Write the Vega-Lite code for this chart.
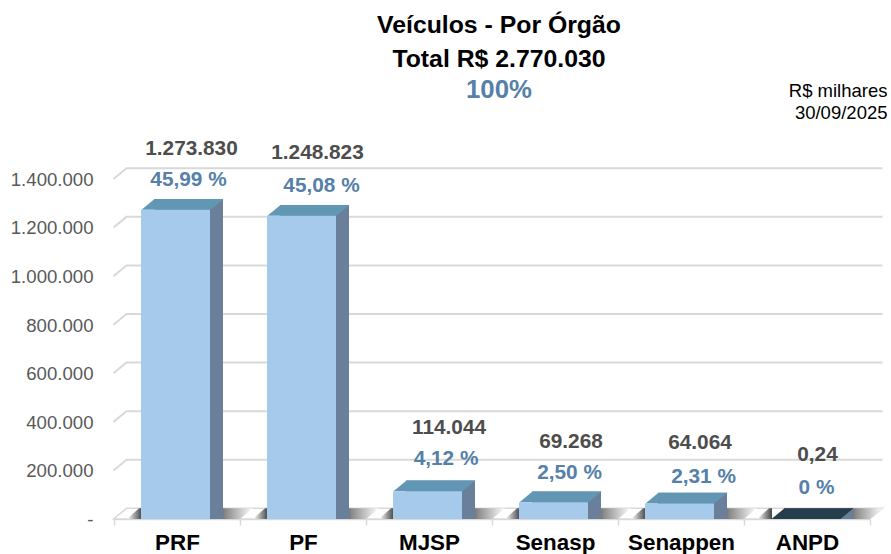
{
"$schema":"https://vega.github.io/schema/vega-lite/v6.json",
"width":756,"height":340,
"autosize":{"type":"none"},
"padding":{"left":114,"top":179,"right":21,"bottom":35},
"background":"white",
"config":{"view":{"stroke":null},"font":"Liberation Sans"},
"title":{"text":["Veículos - Por Órgão","Total R$ 2.770.030"],"subtitle":"\u00a0\u00a0100%","anchor":"middle","dx":7,"offset":-22,"font":"Liberation Sans","fontSize":24.8,"fontWeight":"bold","color":"#000000","lineHeight":34,"subtitleFont":"Liberation Sans","subtitleFontSize":25.8,"subtitleFontWeight":"bold","subtitleColor":"#5580A8","subtitlePadding":6},
"datasets":{
"orgaos":[
{"orgao":"PRF","valor":1273830,"valorTxt":"1.273.830","pct":"45,99 %"},
{"orgao":"PF","valor":1248823,"valorTxt":"1.248.823","pct":"45,08 %"},
{"orgao":"MJSP","valor":114044,"valorTxt":"114.044","pct":"4,12 %"},
{"orgao":"Senasp","valor":69268,"valorTxt":"69.268","pct":"2,50 %"},
{"orgao":"Senappen","valor":64064,"valorTxt":"64.064","pct":"2,31 %"},
{"orgao":"ANPD","valor":0.24,"valorTxt":"0,24","pct":"0 %"}],
"marcas":[{"valor":200000},{"valor":400000},{"valor":600000},{"valor":800000},{"valor":1000000},{"valor":1200000},{"valor":1400000}],
"piso":[{"valor":0}]
},
"data":{"name":"orgaos"},
"encoding":{
"x":{"field":"orgao","type":"nominal","sort":null,"scale":{"domain":["PRF","PF","MJSP","Senasp","Senappen","ANPD"],"paddingInner":0,"paddingOuter":0},
"axis":{"title":null,"labelAngle":0,"labelFont":"Liberation Sans","labelFontSize":22.4,"labelFontWeight":"bold","labelColor":"#000000","labelPadding":6.5,"tickBand":"extent","tickSize":6,"tickColor":"#D9D9D9","tickWidth":1.5,"domainColor":"#D9D9D9","domainWidth":1.5,"grid":false}},
"y":{"field":"valor","type":"quantitative","stack":null,"scale":{"domain":[0,1400000],"nice":false,"zero":true},
"axis":{"values":[0,200000,400000,600000,800000,1000000,1200000,1400000],"labelExpr":"datum.value==0?'-\u00a0\u00a0\u00a0\u00a0\u00a0':replace(format(datum.value,','),/,/g,'.')","labelFont":"Liberation Sans","labelFontSize":18.6,"labelColor":"#595959","labelPadding":21,"labelOffset":0.3,"tickSize":0,"domain":false,"grid":false,
"title":["R$ milhares","30/09/2025"],"titleFont":"Liberation Sans","titleFontSize":18.5,"titleFontWeight":"normal","titleColor":"#000000","titleAngle":0,"titleAlign":"right","titleBaseline":"middle","titleLineHeight":22,"titleX":773,"titleY":-89}}
},
"layer":[
{"data":{"name":"piso"},"mark":{"type":"point","shape":"M-63.5,0 L-50.5,-10.7 L705.5,-10.7 L692.5,0 Z","size":4,"filled":true,"fill":"#ffffff","stroke":"#D9D9D9","strokeWidth":1.5,"opacity":1},"encoding":{"x":{"datum":"PRF"}}},
{"data":{"name":"marcas"},"mark":{"type":"point","shape":"M-63.5,0 L-50.5,-10.7 L705.5,-10.7","size":4,"filled":false,"stroke":"#D9D9D9","strokeWidth":2,"opacity":1},"encoding":{"x":{"datum":"PRF"}}},
{"mark":{"type":"point","shape":"M-50,0 L-35,0 L-35,-10.7 L-38,-10.7 Z","size":4,"filled":true,"opacity":1,"stroke":null,"fill":{"x1":0,"x2":1,"y1":0,"y2":0,"gradient":"linear","stops":[{"offset":0,"color":"#ffffff"},{"offset":1,"color":"#444444"}]}},"encoding":{"y":{"datum":0}}},
{"mark":{"type":"point","shape":"M33.5,0 L46.5,-10.7 L76,-10.7 L63,0 Z","size":4,"filled":true,"opacity":1,"stroke":null,"fill":{"x1":0,"x2":1,"y1":0,"y2":0,"gradient":"linear","stops":[{"offset":0,"color":"#222222"},{"offset":0.35,"color":"#888888"},{"offset":1,"color":"#ffffff"}]}},"encoding":{"y":{"datum":0}}},
{"mark":{"type":"bar","width":69,"fill":"#6A7F99","xOffset":11.5,"x2Offset":11.5,"yOffset":-10.7,"y2Offset":-10.7}},
{"mark":{"type":"point","shape":"M33.5,0 L46.5,-10.7 L33.5,-10.7 Z","size":4,"filled":true,"opacity":1,"stroke":null,"fill":"#6A7F99"}, "encoding":{"y":{"datum":0}}},
{"mark":{"type":"point","shape":"M-35.5,0 L33.5,0 L46.5,-10.7 L-22.5,-10.7 Z","size":4,"filled":true,"opacity":1,"stroke":null},"encoding":{"fill":{"condition":{"test":"datum.valor<1","value":"#263D4B"},"value":"#6197B4"}}},
{"mark":{"type":"bar","width":69,"fill":"#A6CAEC","xOffset":-1.5,"x2Offset":-1.5}},
{"mark":{"type":"text","font":"Liberation Sans","fontSize":20.8,"fontWeight":"bold","color":"#4D4D4D","baseline":"middle","dx":{"expr":"{'PRF':14.5,'PF':14.5,'MJSP':20,'Senasp':16,'Senappen':19,'ANPD':10.5}[datum.orgao]"},"dy":{"expr":"{'PRF':-60.6,'PF':-62.7,'MJSP':-63,'Senasp':-60,'Senappen':-60,'ANPD':-64}[datum.orgao]"}},
"encoding":{"text":{"field":"valorTxt"}}},
{"mark":{"type":"text","font":"Liberation Sans","fontSize":20.8,"fontWeight":"bold","color":"#5580A8","baseline":"middle","dx":{"expr":"{'PRF':11.5,'PF':18.5,'MJSP':17,'Senasp':14.5,'Senappen':22.5,'ANPD':9.5}[datum.orgao]"},"dy":{"expr":"{'PRF':-29.6,'PF':-29.7,'MJSP':-32,'Senasp':-29,'Senappen':-26.5,'ANPD':-31}[datum.orgao]"}},
"encoding":{"text":{"field":"pct"}}}
]
}
